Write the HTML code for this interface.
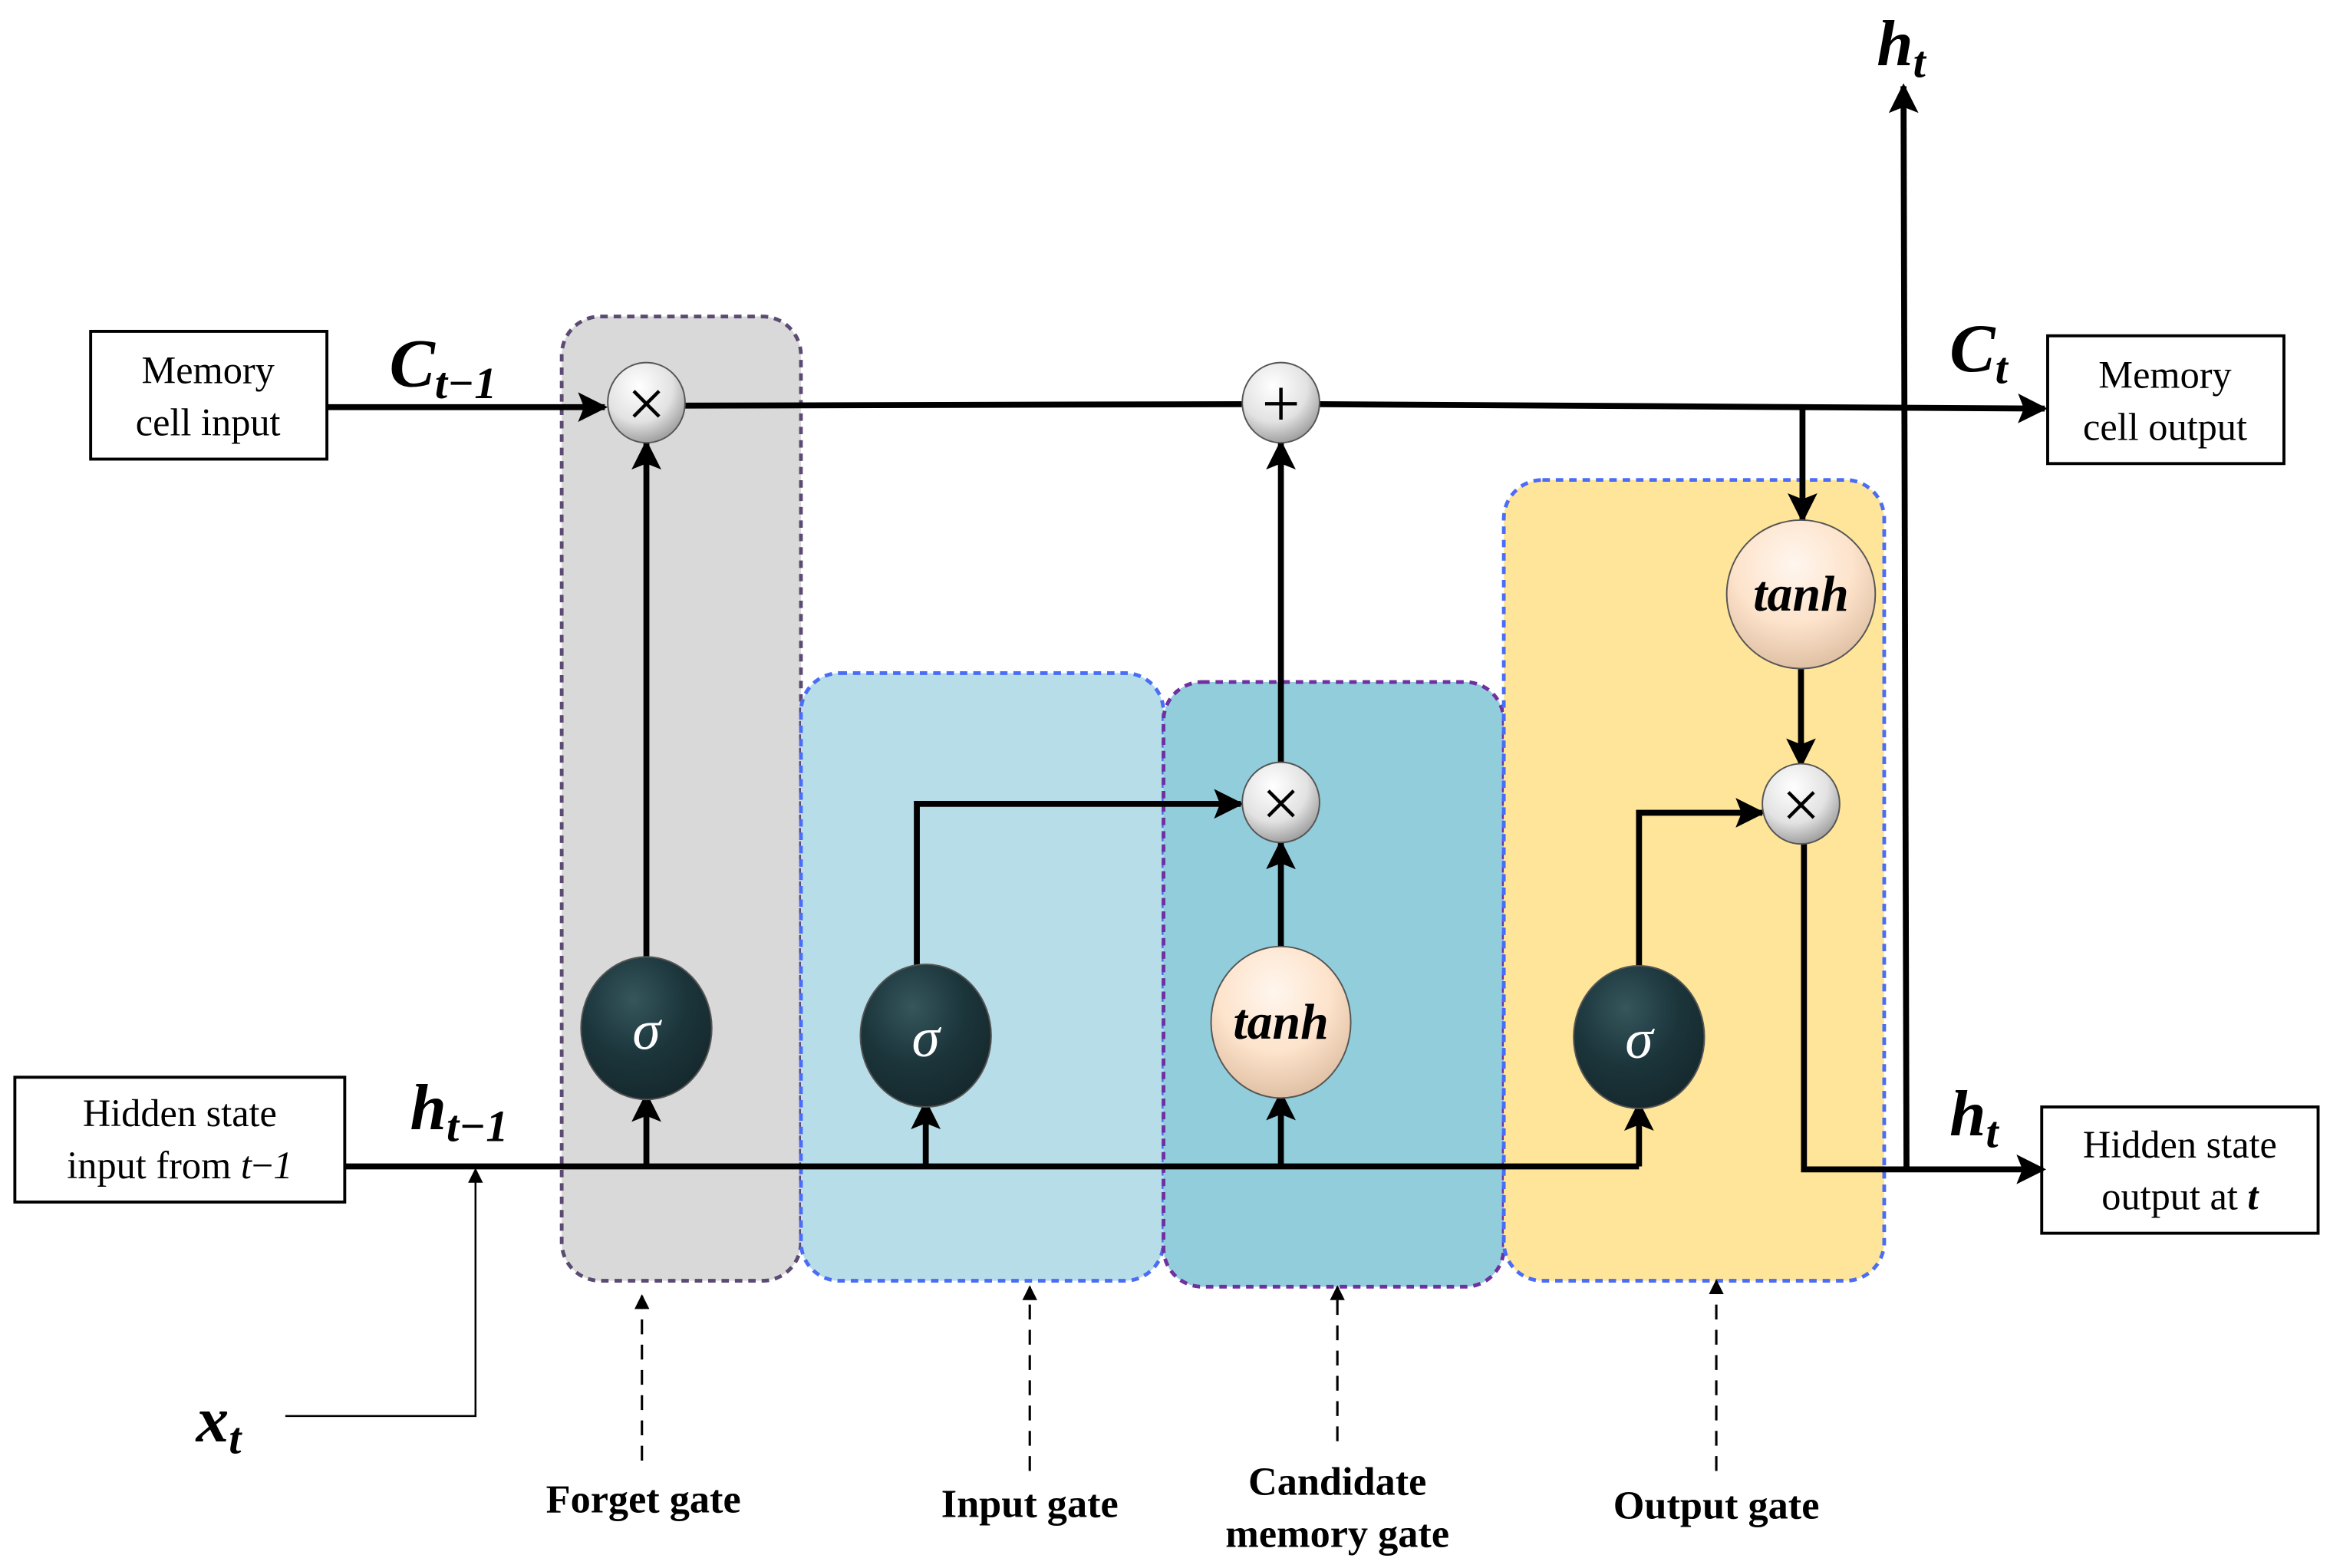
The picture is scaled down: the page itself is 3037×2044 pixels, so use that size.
<!DOCTYPE html>
<html><head><meta charset="utf-8">
<style>
html,body{margin:0;padding:0;background:#fff;}
svg{display:block;}
text{font-family:"Liberation Serif",serif;}
</style></head>
<body>
<svg width="3037" height="2044" viewBox="0 0 1568 1055.3" preserveAspectRatio="none" xmlns="http://www.w3.org/2000/svg">
<defs>
<marker id="b" viewBox="0 0 10 10" refX="9" refY="5" markerWidth="22" markerHeight="20" orient="auto" markerUnits="userSpaceOnUse"><path d="M0,0 L10,5 L0,10 L2,5 z" fill="#000"/></marker>
<marker id="s" viewBox="0 0 10 10" refX="9" refY="5" markerWidth="11" markerHeight="10" orient="auto" markerUnits="userSpaceOnUse"><path d="M0,0 L10,5 L0,10 z" fill="#000"/></marker>
<radialGradient id="gs" cx="0.4" cy="0.3" r="0.8"><stop offset="0" stop-color="#35565c"/><stop offset="0.5" stop-color="#1b353b"/><stop offset="1" stop-color="#14262a"/></radialGradient>
<radialGradient id="gt" cx="0.45" cy="0.3" r="0.8"><stop offset="0" stop-color="#fff6ee"/><stop offset="0.5" stop-color="#fde3cb"/><stop offset="1" stop-color="#d6b598"/></radialGradient>
<radialGradient id="gx" cx="0.4" cy="0.3" r="0.8"><stop offset="0" stop-color="#ffffff"/><stop offset="0.55" stop-color="#e2e2e2"/><stop offset="1" stop-color="#8a8a8a"/></radialGradient>
</defs>

<rect x="378" y="213" width="161" height="649" rx="26" fill="#d9d9d9" stroke="#5b4a72" stroke-width="2.5" stroke-dasharray="5,4"/>
<rect x="539" y="453" width="244" height="409" rx="26" fill="#b7dde8" stroke="#4a6cf7" stroke-width="2.5" stroke-dasharray="5,4"/>
<rect x="783" y="459" width="229" height="407" rx="26" fill="#92cddc" stroke="#7030a0" stroke-width="2.5" stroke-dasharray="5,4"/>
<rect x="1012" y="323" width="256" height="539" rx="26" fill="#fee599" stroke="#4a6cf7" stroke-width="2.5" stroke-dasharray="5,4"/>

<rect x="61" y="223" width="159" height="86" fill="#fff" stroke="#000" stroke-width="2"/>
<text x="140" y="258" font-size="26" text-anchor="middle">Memory</text>
<text x="140" y="293" font-size="26" text-anchor="middle">cell input</text>
<rect x="1378" y="226" width="159" height="86" fill="#fff" stroke="#000" stroke-width="2"/>
<text x="1457" y="261" font-size="26" text-anchor="middle">Memory</text>
<text x="1457" y="296" font-size="26" text-anchor="middle">cell output</text>
<rect x="10" y="725" width="222" height="84" fill="#fff" stroke="#000" stroke-width="2"/>
<text x="121" y="758" font-size="26" text-anchor="middle">Hidden state</text>
<text x="121" y="793" font-size="26" text-anchor="middle">input from <tspan font-style="italic">t</tspan>−<tspan font-style="italic">1</tspan></text>
<rect x="1374" y="745" width="186" height="85" fill="#fff" stroke="#000" stroke-width="2"/>
<text x="1467" y="779" font-size="26" text-anchor="middle">Hidden state</text>
<text x="1467" y="814" font-size="26" text-anchor="middle">output at <tspan font-style="italic" font-weight="bold">t</tspan></text>

<g stroke="#000" stroke-width="4" fill="none">
<line x1="220" y1="274" x2="407" y2="274" marker-end="url(#b)"/>
<line x1="461" y1="273" x2="836" y2="272"/>
<line x1="888" y1="272" x2="1376" y2="275" marker-end="url(#b)"/>
<line x1="1283" y1="785" x2="1281" y2="58" marker-end="url(#b)"/>
<line x1="232" y1="785" x2="1103" y2="785"/>
<line x1="435" y1="785" x2="435" y2="737" marker-end="url(#b)"/>
<line x1="623" y1="785" x2="623" y2="742" marker-end="url(#b)"/>
<line x1="862" y1="785" x2="862" y2="736" marker-end="url(#b)"/>
<line x1="1103" y1="785" x2="1103" y2="743" marker-end="url(#b)"/>
<line x1="435" y1="648" x2="435" y2="298" marker-end="url(#b)"/>
<polyline points="617,653 617,541 835,541" marker-end="url(#b)"/>
<line x1="862" y1="640" x2="862" y2="567" marker-end="url(#b)"/>
<line x1="862" y1="514" x2="862" y2="298" marker-end="url(#b)"/>
<polyline points="1103,654 1103,547 1186,547" marker-end="url(#b)"/>
<line x1="1213" y1="274" x2="1213" y2="350" marker-end="url(#b)"/>
<line x1="1212" y1="450" x2="1212" y2="515" marker-end="url(#b)"/>
<polyline points="1214,567 1214,787 1375,787" marker-end="url(#b)"/>
</g>
<polyline points="192,953 320,953 320,787" fill="none" stroke="#000" stroke-width="1.3" marker-end="url(#s)"/>
<g stroke="#000" stroke-width="1.6" stroke-dasharray="10,7" fill="none">
<line x1="432" y1="983" x2="432" y2="872" marker-end="url(#s)"/>
<line x1="693" y1="990" x2="693" y2="866" marker-end="url(#s)"/>
<line x1="900" y1="970" x2="900" y2="866" marker-end="url(#s)"/>
<line x1="1155" y1="990" x2="1155" y2="862" marker-end="url(#s)"/>
</g>

<g stroke="#555" stroke-width="1">
<ellipse cx="435" cy="271" rx="26" ry="27" fill="url(#gx)"/>
<ellipse cx="862" cy="271" rx="26" ry="27" fill="url(#gx)"/>
<ellipse cx="862" cy="540" rx="26" ry="27" fill="url(#gx)"/>
<ellipse cx="1212" cy="541" rx="26" ry="27" fill="url(#gx)"/>
<ellipse cx="435" cy="692" rx="44" ry="48" fill="url(#gs)"/>
<ellipse cx="623" cy="697" rx="44" ry="48" fill="url(#gs)"/>
<ellipse cx="1103" cy="698" rx="44" ry="48" fill="url(#gs)"/>
<ellipse cx="862" cy="688" rx="47" ry="51" fill="url(#gt)"/>
<ellipse cx="1212" cy="400" rx="50" ry="50" fill="url(#gt)"/>
</g>
<g font-size="46" text-anchor="middle" fill="#000" font-family="'DejaVu Sans',sans-serif">
<text x="435" y="287">×</text>
<text x="862" y="287">+</text>
<text x="862" y="556">×</text>
<text x="1212" y="557">×</text>
</g>
<g font-size="38" font-style="italic" fill="#fff" text-anchor="middle">
<text x="435" y="706">σ</text>
<text x="623" y="711">σ</text>
<text x="1103" y="712">σ</text>
</g>
<g font-size="34" font-style="italic" font-weight="bold" text-anchor="middle">
<text x="862" y="699">tanh</text>
<text x="1212" y="411">tanh</text>
</g>

<g font-style="italic" font-weight="bold">
<text x="262" y="260" font-size="46">C<tspan font-size="30" dy="8">t−1</tspan></text>
<text x="1312" y="250" font-size="46">C<tspan font-size="30" dy="8">t</tspan></text>
<text x="1263" y="44" font-size="44">h<tspan font-size="30" dy="8">t</tspan></text>
<text x="276" y="760" font-size="44">h<tspan font-size="30" dy="8">t−1</tspan></text>
<text x="1312" y="764" font-size="44">h<tspan font-size="30" dy="8">t</tspan></text>
<text x="132" y="970" font-size="44">x<tspan font-size="30" dy="8">t</tspan></text>
</g>

<g font-size="27" font-weight="bold" text-anchor="middle">
<text x="433" y="1018">Forget gate</text>
<text x="693" y="1021">Input gate</text>
<text x="900" y="1006">Candidate</text>
<text x="900" y="1041">memory gate</text>
<text x="1155" y="1022">Output gate</text>
</g>
</svg>
</body></html>
